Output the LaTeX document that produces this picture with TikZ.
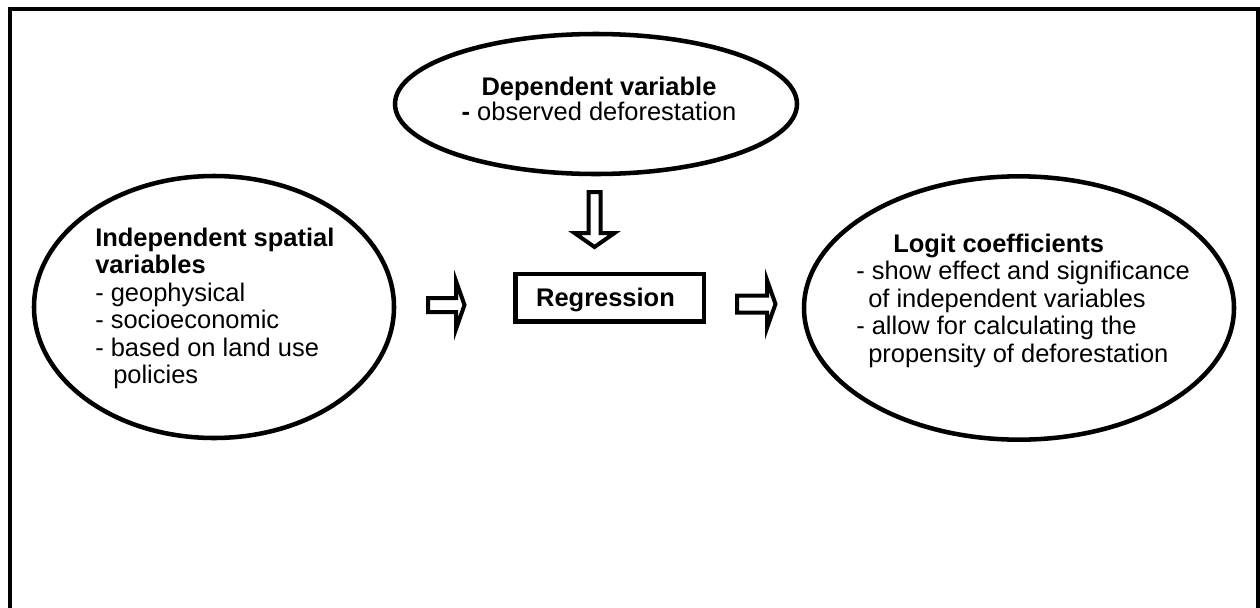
\documentclass[tikz,border=0pt]{standalone}
\usepackage{fontspec}
\setmainfont{Liberation Sans}
\usetikzlibrary{shapes.geometric}
\begin{document}
\begin{tikzpicture}[x=0.75pt,y=-0.75pt,
  oval/.style={draw, ellipse, line width=3.4pt, inner sep=0pt},
  txt/.style={font=\fontsize{19.1}{20.6}\selectfont, inner sep=0pt},
  toptxt/.style={font=\fontsize{19.1}{18.5}\selectfont, inner sep=0pt},
  regbox/.style={draw, line width=3.3pt, minimum width=141.2pt, minimum height=35.6pt, inner sep=0pt},
  blockarrow/.style={draw, line width=3pt, fill=white, line join=miter},
  frame/.style={draw, line width=2.4pt}]
\useasboundingbox (0,0) rectangle (1260,607);
\draw[frame] (10,610) -- (10,9) -- (1258,9) -- (1258,610);

% ovals
\node[oval, minimum width=301.5pt, minimum height=105pt] (dep) at (596,104) {};
\node[oval, minimum width=270pt, minimum height=196.5pt] (ind) at (214,307) {};
\node[oval, minimum width=322.5pt, minimum height=197.5pt] (logit) at (1019,308) {};
\node[regbox] (reg) at (609.6,297.8) {};

% texts
\node[toptxt, align=center, anchor=north] (deptxt) at (599,77) {\textbf{Dependent variable}\\\textbf{-} observed deforestation};
\node[txt, align=left, anchor=north west] (indtxt) at (95,227.5) {\textbf{Independent spatial}\\\textbf{variables}\\- geophysical\\- socioeconomic\\- based on land use\\\hspace*{13.5pt}policies};
\node[txt, align=left, anchor=north west] (logtxt) at (856,233.5) {\hspace*{27.75pt}\textbf{Logit coefficients}\\- show effect and significance\\\hspace*{9pt}of independent variables\\- allow for calculating the\\\hspace*{9pt}propensity of deforestation};
\node[txt, anchor=base] (regtxt) at (605.5,306) {\textbf{Regression}};

% block arrows
\draw[blockarrow] (588.5,192) -- (600.5,192) -- (600.5,233) -- (614.5,233) -- (594.5,247) -- (574.5,233) -- (588.5,233) -- cycle;
\draw[blockarrow] (428,298) -- (456,298) -- (456,281) -- (464.5,305) -- (456,329) -- (456,312) -- (428,312) -- cycle;
\draw[blockarrow] (737,295.5) -- (767,295.5) -- (767,280) -- (775.5,304) -- (767,328) -- (767,312.5) -- (737,312.5) -- cycle;
\end{tikzpicture}
\end{document}
